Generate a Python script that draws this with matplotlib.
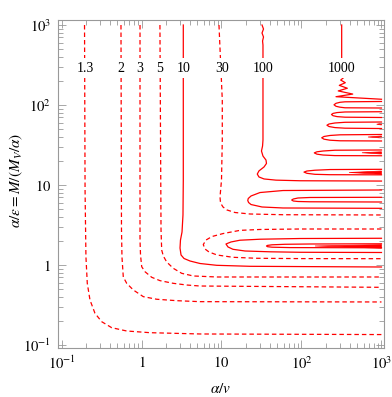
"""Contornos del factor de Sommerfeld en el plano (alpha/v, alpha/eps)."""
import matplotlib
matplotlib.use("Agg")
import matplotlib.pyplot as plt
from matplotlib.ticker import FixedLocator, LogLocator, NullFormatter

plt.rcParams["font.family"] = ["Liberation Serif", "DejaVu Serif"]
plt.rcParams["mathtext.fontset"] = "stix"

RED = "#ff0000"
DASH = (0, (3.6, 2.4))

# --- contornos (x = alpha/v, y = alpha/eps) ---
c13_x = [0.194, 0.197, 0.202, 0.210, 0.227, 0.262, 0.318, 0.424, 0.653, 1.277, 5.39, 1000]
c13_y = [1000, 8.66, 1.27, 0.590, 0.365, 0.249, 0.1955, 0.1645, 0.1496, 0.1425, 0.1373, 0.135]

c2_x = [0.554, 0.562, 0.570, 0.592, 0.653, 0.790, 1.053, 1.549, 2.754, 5.39, 1000]
c2_y = [1000, 2.74, 1.26, 0.708, 0.590, 0.487, 0.402, 0.373, 0.358, 0.348, 0.345]

c3_x = [0.958, 0.958, 0.972, 1.006, 1.106, 1.341, 1.703, 2.497, 3.673, 5.39, 1000]
c3_y = [1000, 2.05, 1.334, 0.952, 0.824, 0.702, 0.637, 0.590, 0.562, 0.546, 0.526]

c5_x = [1.70, 1.754, 1.788, 1.873, 2.065, 2.497, 3.18, 4.44, 8.79, 1000]
c5_y = [1000, 2.74, 1.54, 1.296, 1.09, 0.909, 0.787, 0.729, 0.708, 0.708]

c10_x = [3.33, 3.33, 3.30, 3.21, 3.07, 3.03, 3.12, 3.40, 4.04, 5.39, 8.71, 22.7, 1000]
c10_y = [1000, 11.5, 4.22, 2.585, 2.05, 1.63, 1.334, 1.206, 1.122, 1.044, 0.991, 0.963, 0.944]

c30a_x = [9.30, 9.72, 10.23, 10.23, 10.0, 9.58, 9.72, 10.44, 11.72, 14.75, 22.7, 58.7, 1000]
c30a_y = [1000, 365, 115.5, 36.5, 11.5, 7.08, 5.96, 5.31, 4.87, 4.53, 4.34, 4.25, 4.22]
c30b_x = [1000, 95.8, 30.3, 17.0, 10.44, 7.60, 6.40, 5.92, 6.22, 6.98, 8.79, 13.9, 27.8, 95.8, 1000]
c30b_y = [2.818, 2.818, 2.78, 2.71, 2.47, 2.27, 2.05, 1.80, 1.585, 1.454, 1.334, 1.248, 1.213, 1.202, 1.199]

c100a_x = [32.1, 33.5, 32.1, 33.5, 32.6, 33.0, 33.0, 33.0, 32.6, 31.6, 33.0, 36.0, 36.5, 34.0,
           29.4, 28.0, 29.4, 34.0, 48.0, 95.8, 1000]
c100a_y = [1000, 891, 794, 708, 631, 562, 387, 36.5, 30.7, 26.6, 23.0, 20.5, 18.6, 16.8,
           15.0, 13.7, 12.6, 11.9, 11.5, 11.3, 11.2]
c100b_x = [1000, 58.7, 30.3, 23.4, 21.6, 21.3, 21.8, 23.4, 32.1, 58.7, 1000]
c100b_y = [8.66, 8.53, 8.05, 7.29, 6.78, 6.40, 6.04, 5.70, 5.31, 5.16, 5.11]
c100c_x = [1000, 95.8, 30.3, 17.0, 13.14, 11.38, 12.06, 13.92, 19.7, 40.4, 95.8, 1000]
c100c_y = [2.158, 2.143, 2.10, 2.04, 1.94, 1.83, 1.68, 1.571, 1.496, 1.462, 1.442, 1.433]

c1000a_x = [318, 318, 318, 340, 309, 353, 297, 374, 288, 437, 270, 1000]
c1000a_y = [1000, 398, 237, 222, 205, 190, 176, 162, 150, 137, 127, 118]
c1000b_x = [1000, 350, 303, 270, 255, 270, 303, 350, 1000]
c1000b_y = [110.6, 109.6, 108.1, 105, 100.6, 96.4, 93.9, 92.3, 91.7]
c1000c_x = [1000, 350, 278, 248, 237, 248, 278, 350, 1000]
c1000c_y = [82.4, 81.8, 80.4, 78.5, 76.1, 73.5, 71.6, 70.4, 69.8]
c1000d_x = [1000, 350, 262, 221, 208, 221, 262, 350, 1000]
c1000d_y = [61.3, 60.8, 59.6, 57.9, 55.9, 53.8, 52.2, 51.3, 50.8]
c1000e_x = [1000, 303, 227, 191, 179, 191, 227, 303, 1000]
c1000e_y = [42.8, 42.4, 41.6, 40.4, 38.9, 37.4, 36.3, 35.7, 35.5]
c1000f_x = [1000, 262, 186, 156, 144.5, 156, 186, 262, 1000]
c1000f_y = [27.4, 27.2, 26.6, 26.0, 25.2, 24.3, 23.7, 23.3, 23.2]
c1000g_x = [1000, 227, 147.5, 117, 107.5, 117, 147.5, 227, 1000]
c1000g_y = [15.71, 15.6, 15.3, 14.96, 14.5, 14.0, 13.6, 13.45, 13.4]
c1000h_x = [1000, 127.7, 90.4, 79.0, 75.4, 79.0, 90.4, 127.7, 1000]
c1000h_y = [7.02, 6.98, 6.88, 6.68, 6.49, 6.31, 6.22, 6.17, 6.13]
c1000i_x = [1000, 127.7, 62.2, 42.8, 37.6, 36.5, 37.6, 42.8, 71.8, 1000]
c1000i_y = [1.841, 1.83, 1.815, 1.788, 1.758, 1.728, 1.694, 1.669, 1.650, 1.641]

# cunas gruesas junto al borde derecho (x_punta, y_punta, y_sup, y_inf)
wedge_x0 = [147.5, 392.6, 570, 678, 871]
wedge_y0 = [1.728, 14.33, 25.3, 39.8, 57.5]
wedge_hi = [1.795, 14.96, 26.0, 41.0, 59.0]
wedge_lo = [1.62, 13.6, 24.4, 38.7, 56.2]

levels = ["1.3", "2", "3", "5", "10", "30", "100", "1000"]
label_x = [0.197, 0.554, 0.958, 1.70, 3.33, 10.1, 33.0, 318]
label_y = 290

dashed = [(c13_x, c13_y), (c2_x, c2_y), (c3_x, c3_y), (c5_x, c5_y),
          (c30a_x, c30a_y), (c30b_x, c30b_y)]
solid = [(c10_x, c10_y), (c100a_x, c100a_y), (c100b_x, c100b_y), (c100c_x, c100c_y),
         (c1000a_x, c1000a_y), (c1000b_x, c1000b_y), (c1000c_x, c1000c_y),
         (c1000d_x, c1000d_y), (c1000e_x, c1000e_y), (c1000f_x, c1000f_y),
         (c1000g_x, c1000g_y), (c1000h_x, c1000h_y), (c1000i_x, c1000i_y)]

fig = plt.figure(figsize=(3.92, 3.97), dpi=100)
ax = fig.add_axes([58 / 392, 49 / 397, 326 / 392, 328 / 397])
ax.set_xscale("log")
ax.set_yscale("log")

for xs, ys in dashed:
    ax.plot(xs, ys, color=RED, lw=0.9, ls=DASH)
for xs, ys in solid:
    ax.plot(xs, ys, color=RED, lw=0.9)
for x0, y0, hi, lo in zip(wedge_x0, wedge_y0, wedge_hi, wedge_lo):
    ax.fill([x0, 1000, 1000], [y0, hi, lo], color=RED, lw=0.5)

for s, x in zip(levels, label_x):
    ax.text(x, label_y, s, ha="center", va="center", fontsize=10, zorder=5,
            bbox=dict(fc="white", ec="none", pad=2.5))

ax.set_xlim(0.0904, 1075)
ax.set_ylim(0.0917, 1155)
major = [0.1, 1, 10, 100, 1000]
major_lbl = [r"$10^{-1}$", r"$1$", r"$10$", r"$10^{2}$", r"$10^{3}$"]
for axis in (ax.xaxis, ax.yaxis):
    axis.set_major_locator(FixedLocator(major))
    axis.set_minor_locator(LogLocator(base=10, subs=range(2, 10)))
    axis.set_minor_formatter(NullFormatter())
ax.set_xticklabels(major_lbl)
ax.set_yticklabels(major_lbl)
ax.tick_params(which="both", direction="in", top=True, right=True, color="0.6",
               labelsize=10.5, width=0.6)
ax.tick_params(which="major", length=6, pad=5)
ax.tick_params(which="minor", length=3.5)
for sp in ax.spines.values():
    sp.set_color("0.6")
    sp.set_linewidth(0.8)

ax.set_xlabel(r"$\alpha/v$", fontsize=11)
ax.xaxis.set_label_coords(0.5, -0.105)
ax.set_ylabel(r"$\alpha/\epsilon = M/(M_V/\alpha)$", fontsize=11)
ax.yaxis.set_label_coords(-0.1, 0.51)

fig.savefig("out.png", dpi=100)
